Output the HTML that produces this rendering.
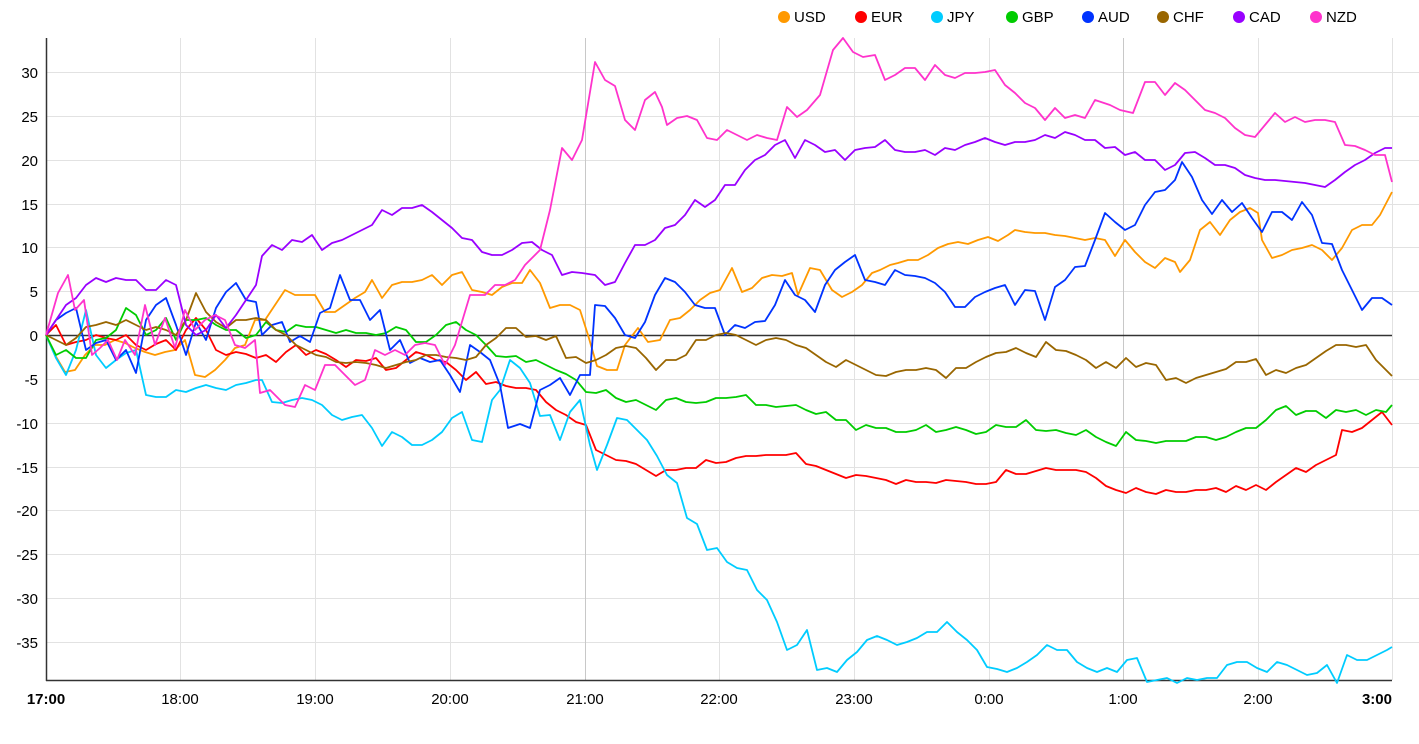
<!DOCTYPE html>
<html><head><meta charset="utf-8"><style>
html,body{margin:0;padding:0;background:#fff;}
svg{display:block;font-family:"Liberation Sans",Arial,sans-serif;}
</style></head><body>
<svg width="1419" height="744" viewBox="0 0 1419 744" xmlns="http://www.w3.org/2000/svg">
<g stroke="#e2e2e2" stroke-width="1">
<line x1="46" x2="1419" y1="72.5" y2="72.5"/><line x1="46" x2="1419" y1="116.5" y2="116.5"/><line x1="46" x2="1419" y1="160.5" y2="160.5"/><line x1="46" x2="1419" y1="204.5" y2="204.5"/><line x1="46" x2="1419" y1="247.5" y2="247.5"/><line x1="46" x2="1419" y1="291.5" y2="291.5"/><line x1="46" x2="1419" y1="379.5" y2="379.5"/><line x1="46" x2="1419" y1="423.5" y2="423.5"/><line x1="46" x2="1419" y1="467.5" y2="467.5"/><line x1="46" x2="1419" y1="510.5" y2="510.5"/><line x1="46" x2="1419" y1="554.5" y2="554.5"/><line x1="46" x2="1419" y1="598.5" y2="598.5"/><line x1="46" x2="1419" y1="642.5" y2="642.5"/>
<line x1="180.5" x2="180.5" y1="38" y2="680"/><line x1="315.5" x2="315.5" y1="38" y2="680"/><line x1="450.5" x2="450.5" y1="38" y2="680"/><line x1="719.5" x2="719.5" y1="38" y2="680"/><line x1="854.5" x2="854.5" y1="38" y2="680"/><line x1="989.5" x2="989.5" y1="38" y2="680"/><line x1="1258.5" x2="1258.5" y1="38" y2="680"/><line x1="1392.5" x2="1392.5" y1="38" y2="680"/>
</g>
<g stroke="#c8c8c8"><line x1="585.5" x2="585.5" y1="38" y2="680"/><line x1="1123.5" x2="1123.5" y1="38" y2="680"/></g>
<line x1="46" x2="1392" y1="335.5" y2="335.5" stroke="#333" stroke-width="1.5"/>
<line x1="46.5" x2="46.5" y1="38" y2="681" stroke="#333" stroke-width="1.5"/>
<line x1="46" x2="1392" y1="680.5" y2="680.5" stroke="#333" stroke-width="1.5"/>
<g font-size="15" fill="#000" text-anchor="end">
<text x="38" y="78">30</text><text x="38" y="122">25</text><text x="38" y="166">20</text><text x="38" y="210">15</text><text x="38" y="253">10</text><text x="38" y="297">5</text><text x="38" y="341">0</text><text x="38" y="385">-5</text><text x="38" y="429">-10</text><text x="38" y="473">-15</text><text x="38" y="516">-20</text><text x="38" y="560">-25</text><text x="38" y="604">-30</text><text x="38" y="648">-35</text>
</g>
<g font-size="15" fill="#000" text-anchor="middle">
<text x="46" y="704" font-weight="bold">17:00</text><text x="180" y="704">18:00</text><text x="315" y="704">19:00</text><text x="450" y="704">20:00</text><text x="585" y="704">21:00</text><text x="719" y="704">22:00</text><text x="854" y="704">23:00</text><text x="989" y="704">0:00</text><text x="1123" y="704">1:00</text><text x="1258" y="704">2:00</text><text x="1392" y="704" font-weight="bold" text-anchor="end">3:00</text>
</g>
<g font-size="15" fill="#000">
<circle cx="784" cy="17" r="6" fill="#ff9900"/><text x="794" y="22">USD</text>
<circle cx="861" cy="17" r="6" fill="#ff0000"/><text x="871" y="22">EUR</text>
<circle cx="937" cy="17" r="6" fill="#00ccff"/><text x="947" y="22">JPY</text>
<circle cx="1012" cy="17" r="6" fill="#00cc00"/><text x="1022" y="22">GBP</text>
<circle cx="1088" cy="17" r="6" fill="#0033ff"/><text x="1098" y="22">AUD</text>
<circle cx="1163" cy="17" r="6" fill="#996600"/><text x="1173" y="22">CHF</text>
<circle cx="1239" cy="17" r="6" fill="#9900ff"/><text x="1249" y="22">CAD</text>
<circle cx="1316" cy="17" r="6" fill="#ff33cc"/><text x="1326" y="22">NZD</text>
</g>
<g fill="none" stroke-width="1.8" stroke-linejoin="round">
<polyline stroke="#ff9900" points="46,335 55,355 65,372 75,370 85,355 95,345 105,345 115,340 125,343 135,348 145,352 155,355 165,352 175,350 185,340 195,375 205,377 215,370 225,360 235,348 245,345 255,320 265,320 275,305 285,290 295,295 305,295 315,295 325,312 335,312 345,305 355,298 365,292 372,280 382,298 392,285 402,282 412,282 422,280 432,275 442,285 452,275 462,272 472,290 482,292 492,295 502,287 512,283 522,283 530,270 540,283 550,308 560,305 570,305 580,310 588,335 597,366 607,370 617,370 625,345 638,328 648,342 660,340 670,320 680,318 690,310 700,300 710,293 720,290 732,268 742,292 752,288 762,278 772,275 782,276 792,273 798,295 810,268 820,270 832,290 842,297 852,292 862,285 872,273 880,270 890,265 898,263 908,260 918,260 928,255 938,248 948,244 958,242 968,244 978,240 988,237 998,241 1008,235 1015,230 1025,232 1035,233 1045,233 1055,235 1065,236 1075,238 1085,240 1095,238 1105,240 1115,256 1125,240 1135,252 1145,262 1155,268 1165,258 1175,262 1180,272 1190,260 1200,230 1210,222 1220,235 1230,220 1240,212 1250,208 1258,213 1262,240 1272,258 1282,255 1292,250 1302,248 1312,245 1322,250 1332,260 1342,248 1352,230 1362,225 1372,225 1380,215 1392,192"/>
<polyline stroke="#ff0000" points="46,335 56,325 66,345 76,342 86,340 96,335 106,338 116,340 126,335 136,345 146,350 156,344 166,340 176,350 186,330 196,318 206,330 216,350 226,355 236,352 246,354 256,358 266,355 276,362 286,352 296,345 306,355 316,350 326,354 336,360 346,367 356,360 366,361 376,358 386,370 396,368 406,360 416,352 426,355 436,360 446,362 456,370 466,380 476,372 486,384 496,382 506,386 516,388 526,388 536,390 546,402 556,410 566,415 576,422 586,425 596,450 606,455 616,460 626,461 636,464 646,470 656,476 666,470 676,470 686,468 696,468 706,460 716,463 726,462 736,458 746,456 756,456 766,455 776,455 786,455 796,453 806,464 816,466 826,470 836,474 846,478 856,475 866,476 876,478 886,480 896,484 906,480 916,482 926,482 936,483 946,480 956,481 966,482 976,484 986,484 996,482 1006,470 1016,474 1026,474 1036,471 1046,468 1056,470 1066,470 1076,470 1086,472 1096,478 1106,486 1116,490 1126,493 1136,488 1146,492 1156,494 1166,490 1176,492 1186,492 1196,490 1206,490 1216,488 1226,492 1236,486 1246,490 1256,485 1266,490 1276,482 1286,475 1296,468 1306,472 1316,465 1326,460 1336,455 1342,430 1352,432 1362,428 1372,420 1382,412 1392,425"/>
<polyline stroke="#00ccff" points="46,335 56,358 66,375 76,350 86,310 96,355 106,368 116,360 126,353 136,350 146,395 156,397 166,397 176,390 186,392 196,388 206,385 216,388 226,390 236,385 246,383 256,380 262,380 272,402 282,403 292,400 302,398 312,400 322,405 332,415 342,420 352,417 362,415 372,428 382,446 392,432 402,437 412,445 422,445 432,440 442,432 452,418 462,412 472,440 482,442 492,400 500,390 510,360 520,368 530,383 540,416 550,415 560,440 570,412 580,400 590,445 597,470 607,445 617,418 627,420 637,430 647,440 657,456 667,475 677,483 687,518 697,524 707,550 717,548 727,562 737,568 747,570 757,590 767,600 777,622 787,650 797,645 807,630 817,670 827,668 837,672 847,660 857,652 867,640 877,636 887,640 897,645 907,642 917,638 927,632 937,632 947,622 957,632 967,640 977,650 987,667 997,669 1007,672 1017,668 1027,662 1037,655 1047,645 1057,650 1067,650 1077,662 1087,668 1097,672 1107,668 1117,672 1127,660 1137,658 1147,682 1157,680 1167,678 1177,683 1187,678 1197,680 1207,678 1217,678 1227,665 1237,662 1247,662 1257,668 1267,672 1277,662 1287,665 1297,670 1307,675 1317,673 1327,665 1337,683 1347,655 1357,660 1367,660 1377,655 1387,650 1392,647"/>
<polyline stroke="#00cc00" points="46,335 56,355 66,350 76,358 86,358 96,340 106,338 116,330 126,308 136,315 146,335 156,330 166,318 176,340 186,320 196,320 206,318 216,325 226,330 236,330 246,338 256,335 266,322 276,330 286,332 296,325 306,327 316,327 326,330 336,333 346,330 356,333 366,333 376,335 386,333 396,327 406,330 416,342 426,342 436,335 446,325 456,322 466,330 476,335 486,345 496,356 506,357 516,356 526,362 536,360 546,365 556,370 566,374 576,380 586,392 596,393 606,390 616,398 626,402 636,400 646,405 656,410 666,400 676,398 686,402 696,403 706,402 716,398 726,398 736,397 746,395 756,405 766,405 776,407 786,406 796,405 806,410 816,414 826,412 836,420 846,420 856,430 866,425 876,428 886,428 896,432 906,432 916,430 926,425 936,432 946,430 956,427 966,430 976,434 986,432 996,425 1006,427 1016,427 1026,420 1036,430 1046,431 1056,430 1066,433 1076,435 1086,430 1096,437 1106,442 1116,446 1126,432 1136,440 1146,441 1156,443 1166,441 1176,441 1186,441 1196,437 1206,437 1216,440 1226,437 1236,432 1246,428 1256,428 1266,420 1276,410 1286,406 1296,415 1306,411 1316,411 1326,418 1336,410 1346,412 1356,410 1366,415 1376,410 1386,412 1392,405"/>
<polyline stroke="#0033ff" points="46,335 56,320 66,313 76,308 86,350 96,343 106,340 116,360 126,350 136,373 146,320 156,305 166,298 176,325 186,355 196,322 206,340 216,308 226,292 236,283 246,300 256,302 262,335 272,325 282,322 290,342 300,336 310,342 320,313 330,308 340,275 350,300 360,300 370,320 380,310 390,350 400,340 410,363 420,358 430,362 440,360 450,375 460,392 470,345 480,352 490,360 500,385 508,428 520,424 530,428 540,390 550,385 560,378 570,395 580,375 590,375 595,305 605,306 615,318 625,335 635,338 645,322 655,295 665,278 675,282 685,292 695,305 705,308 715,308 725,335 735,325 745,328 755,322 765,321 775,305 785,280 795,295 805,300 815,312 825,285 835,270 845,262 855,255 865,280 875,282 885,285 895,270 905,275 915,276 925,278 935,283 945,292 955,307 965,307 975,297 985,292 995,288 1005,285 1015,305 1025,290 1035,291 1045,320 1055,287 1065,280 1075,267 1085,266 1095,240 1105,213 1115,222 1125,230 1135,225 1145,205 1155,192 1165,190 1175,180 1182,162 1192,177 1202,200 1212,214 1222,200 1232,212 1242,203 1252,218 1262,232 1272,212 1282,212 1292,220 1302,202 1312,215 1322,243 1332,244 1342,270 1352,290 1362,310 1372,298 1382,298 1392,305"/>
<polyline stroke="#996600" points="46,335 56,340 66,345 76,338 86,327 96,325 106,322 116,325 126,320 136,325 146,330 156,327 166,330 176,335 186,320 196,293 206,312 216,322 226,328 236,320 246,320 256,318 266,320 276,330 286,335 296,345 306,350 316,355 326,357 336,362 346,363 356,362 366,363 376,365 386,368 396,365 406,362 416,360 426,355 436,355 446,357 456,358 466,360 476,357 486,345 496,338 506,328 516,328 526,337 536,336 546,340 556,336 566,358 576,357 586,363 596,360 606,355 616,348 626,346 636,348 646,358 656,370 666,360 676,360 686,355 696,340 706,340 716,335 726,333 736,335 746,340 756,345 766,340 776,338 786,340 796,345 806,348 816,355 826,362 836,367 846,360 856,365 866,370 876,375 886,376 896,372 906,370 916,370 926,368 936,370 946,378 956,368 966,368 976,362 986,357 996,353 1006,352 1016,348 1026,353 1036,357 1046,342 1056,350 1066,351 1076,355 1086,360 1096,368 1106,362 1116,368 1126,358 1136,367 1146,363 1156,365 1166,380 1176,378 1186,383 1196,378 1206,375 1216,372 1226,369 1236,362 1246,362 1256,359 1266,375 1276,370 1286,373 1296,368 1306,365 1316,358 1326,351 1336,345 1346,345 1356,347 1366,345 1376,360 1386,370 1392,376"/>
<polyline stroke="#9900ff" points="46,335 56,320 66,305 76,298 86,285 96,278 106,282 116,278 126,280 136,280 146,290 156,290 166,280 176,285 186,325 196,335 206,330 216,315 226,328 236,315 246,300 256,285 262,256 272,245 282,250 292,240 302,242 312,235 322,250 332,243 342,240 352,235 362,230 372,225 382,210 392,215 402,208 412,208 422,205 432,212 442,220 452,228 462,238 472,240 482,252 492,255 502,255 512,250 522,243 532,242 542,250 552,255 562,275 572,272 582,273 595,275 605,285 615,282 625,263 635,245 645,245 655,240 665,228 675,225 685,215 695,200 705,207 715,200 725,185 735,185 745,170 755,160 765,155 775,145 785,140 795,158 805,140 815,145 825,152 835,150 845,160 855,150 865,148 875,147 885,140 895,150 905,152 915,152 925,150 935,155 945,148 955,150 965,145 975,142 985,138 995,142 1005,145 1015,142 1025,142 1035,140 1045,135 1055,138 1065,132 1075,135 1085,140 1095,140 1105,148 1115,147 1125,155 1135,152 1145,160 1155,160 1165,170 1175,165 1185,153 1195,152 1205,158 1215,165 1225,165 1235,168 1245,175 1255,178 1265,180 1275,180 1285,181 1295,182 1305,183 1315,185 1325,187 1335,180 1345,172 1355,165 1365,160 1375,153 1385,148 1392,148"/>
<polyline stroke="#ff33cc" points="46,335 58,293 68,275 75,310 84,300 92,355 100,348 108,340 117,360 125,340 135,355 145,305 155,345 165,318 175,348 185,310 195,330 205,320 215,315 225,320 235,345 245,348 255,340 260,393 270,390 285,405 295,407 305,385 315,390 325,365 335,365 345,375 355,385 365,380 375,350 385,355 395,350 405,355 415,345 425,343 435,345 445,365 455,345 470,295 485,295 495,285 505,285 515,280 525,265 540,250 550,210 562,148 572,160 582,140 595,62 605,80 615,86 625,120 635,130 645,100 655,92 662,107 667,125 677,118 687,116 697,120 707,138 717,140 727,130 737,135 747,140 757,135 767,138 777,140 787,107 797,117 807,110 820,95 833,50 843,38 853,52 863,57 875,55 885,80 895,75 905,68 915,68 925,80 935,65 945,75 955,78 965,73 975,73 985,72 995,70 1005,85 1015,93 1025,103 1035,108 1045,120 1055,108 1065,118 1075,115 1085,118 1095,100 1110,105 1120,110 1133,113 1145,82 1155,82 1165,95 1175,83 1185,90 1195,100 1205,110 1215,113 1225,118 1235,128 1245,135 1255,137 1265,125 1275,113 1285,122 1295,117 1305,122 1315,120 1325,120 1335,122 1345,145 1355,146 1365,150 1375,155 1385,155 1392,182"/>
</g>
</svg>
</body></html>
